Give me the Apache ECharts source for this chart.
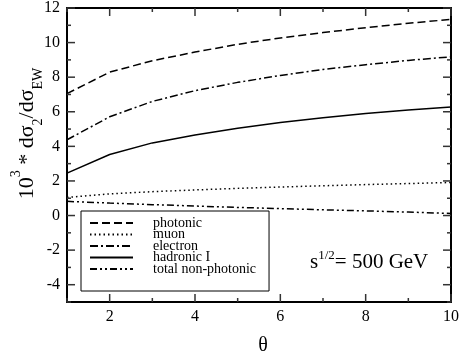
<!DOCTYPE html>
<html>
<head>
<meta charset="utf-8">
<script src="https://cdn.jsdelivr.net/npm/echarts@6/dist/echarts.min.js"></script>
<style>
html,body{margin:0;padding:0;background:#fff;}
#chart{width:462px;height:354px;}
</style>
</head>
<body>
<div id="chart"></div>
<script>
// ---- data ----
const thetaValues = [1, 2, 3, 4, 5, 6, 7, 8, 9, 10];
const photonic = [7.05, 8.29, 8.95, 9.45, 9.9, 10.27, 10.58, 10.86, 11.12, 11.34];
const muon = [1.05, 1.25, 1.38, 1.48, 1.57, 1.65, 1.72, 1.79, 1.85, 1.91];
const electron = [4.38, 5.71, 6.6, 7.22, 7.7, 8.1, 8.45, 8.72, 8.97, 9.18];
const hadronicI = [2.45, 3.53, 4.2, 4.65, 5.05, 5.38, 5.65, 5.9, 6.1, 6.28];
const totalNonPhotonic = [0.82, 0.72, 0.63, 0.55, 0.47, 0.4, 0.33, 0.27, 0.2, 0.12];
const seriesNames = ['photonic', 'muon', 'electron', 'hadronic I', 'total non-photonic'];
const xRange = [1, 10];
const yRange = [-5, 12];
const xTickValues = [1, 2, 3, 4, 5, 6, 7, 8, 9, 10];
const yTickValues = [-5, -4, -3, -2, -1, 0, 1, 2, 3, 4, 5, 6, 7, 8, 9, 10, 11, 12];

const FONT = '"Liberation Serif", "DejaVu Serif", serif';
const chart = echarts.init(document.getElementById('chart'), null, {renderer: 'canvas'});

function pairs(ys) { return thetaValues.map((x, i) => [x, ys[i]]); }

const TICK_STYLE = {stroke: '#333', lineWidth: 1.5};

function xAx(pos) {
  return {
    type: 'value', position: pos, min: xRange[0], max: xRange[1], interval: 1,
    axisLine: {show: true, onZero: false, lineStyle: {color: '#000', width: 2}},
    axisTick: {show: false},
    axisLabel: {
      show: pos === 'bottom', fontFamily: FONT, fontSize: 16, color: '#000', margin: 7,
      formatter: v => (v % 2 === 0 ? String(v) : '')
    },
    splitLine: {show: false}
  };
}
function yAx(pos) {
  return {
    type: 'value', position: pos, min: yRange[0], max: yRange[1], interval: 1,
    axisLine: {show: true, onZero: false, lineStyle: {color: '#000', width: 2}},
    axisTick: {show: false},
    axisLabel: {
      show: pos === 'left', fontFamily: FONT, fontSize: 16, color: '#000', margin: 7,
      formatter: v => (v % 2 === 0 ? String(v) : '')
    },
    splitLine: {show: false}
  };
}

const dashes = {
  'photonic': [8, 4],
  'muon': [1.5, 3],
  'electron': [8, 3, 2, 3],
  'hadronic I': 'solid',
  'total non-photonic': [7, 3, 2, 3, 2, 3]
};
const values = {
  'photonic': photonic,
  'muon': muon,
  'electron': electron,
  'hadronic I': hadronicI,
  'total non-photonic': totalNonPhotonic
};

const lineSeries = seriesNames.map(name => ({
  name: name, type: 'line', xAxisIndex: 0, yAxisIndex: 0,
  data: pairs(values[name]),
  showSymbol: false, symbol: 'none',
  lineStyle: {color: '#000', width: 1.5, type: dashes[name]},
  itemStyle: {color: '#000'}
}));

// inward ticks on all four sides, positioned through the axis scales
const xTickSeries = {
  name: '_xticks', type: 'custom', xAxisIndex: 0, yAxisIndex: 0, silent: true, clip: false, z: 5,
  data: xTickValues.map(v => [v, yRange[0]]),
  renderItem: function (params, api) {
    const v = api.value(0);
    const len = v % 2 === 0 ? 8 : 4;
    const b = api.coord([v, yRange[0]]);
    const t = api.coord([v, yRange[1]]);
    return {type: 'group', children: [
      {type: 'line', shape: {x1: b[0], y1: b[1], x2: b[0], y2: b[1] - len}, style: TICK_STYLE},
      {type: 'line', shape: {x1: t[0], y1: t[1], x2: t[0], y2: t[1] + len}, style: TICK_STYLE}
    ]};
  }
};
const yTickSeries = {
  name: '_yticks', type: 'custom', xAxisIndex: 0, yAxisIndex: 0, silent: true, clip: false, z: 5,
  data: yTickValues.map(v => [xRange[0], v]),
  renderItem: function (params, api) {
    const v = api.value(1);
    const len = v % 2 === 0 ? 8 : 4;
    const l = api.coord([xRange[0], v]);
    const r = api.coord([xRange[1], v]);
    return {type: 'group', children: [
      {type: 'line', shape: {x1: l[0], y1: l[1], x2: l[0] + len, y2: l[1]}, style: TICK_STYLE},
      {type: 'line', shape: {x1: r[0], y1: r[1], x2: r[0] - len, y2: r[1]}, style: TICK_STYLE}
    ]};
  }
};

const option = {
  animation: false,
  backgroundColor: '#fff',
  grid: {left: 67, right: 10, top: 6.5, bottom: 52},
  xAxis: [xAx('bottom'), xAx('top')],
  yAxis: [yAx('left'), yAx('right')],
  legend: {
    orient: 'vertical', left: 81, top: 211,
    data: seriesNames,
    borderColor: '#000', borderWidth: 1,
    padding: [5, 13, 15, 8],
    itemWidth: 43, itemHeight: 10, itemGap: -2.5,
    itemStyle: {color: 'rgba(0,0,0,0)', borderWidth: 0, opacity: 0},
    textStyle: {fontFamily: FONT, fontSize: 14, color: '#000', padding: [0, 0, 0, 15]}
  },
  series: lineSeries.concat([xTickSeries, yTickSeries]),
  graphic: [
    {
      type: 'text', x: 27.5, y: 133.5, rotation: Math.PI / 2,
      style: {
        text: '{n|10}{sup|3}{n| * dσ}{sub|2}{n|/dσ}{sub|EW}',
        align: 'center', verticalAlign: 'middle', fill: '#000',
        rich: {
          n: {fontFamily: FONT, fontSize: 22, lineHeight: 36, fill: '#000'},
          sup: {fontFamily: FONT, fontSize: 14, lineHeight: 14, verticalAlign: 'top', fill: '#000'},
          sub: {fontFamily: FONT, fontSize: 14, lineHeight: 24, verticalAlign: 'bottom', fill: '#000'}
        }
      }
    },
    {
      type: 'text', x: 263, y: 346,
      style: {text: 'θ', fontFamily: FONT, fontSize: 20, fill: '#000', align: 'center', verticalAlign: 'middle'}
    },
    {
      type: 'text', x: 310, y: 262,
      style: {
        text: '{a|s}{b|1/2}{a|= 500 GeV}',
        align: 'left', verticalAlign: 'middle', fill: '#000',
        rich: {
          a: {fontFamily: FONT, fontSize: 21, lineHeight: 26, fill: '#000'},
          b: {fontFamily: FONT, fontSize: 13, lineHeight: 13, verticalAlign: 'top', fill: '#000'}
        }
      }
    }
  ]
};
chart.setOption(option);
</script>
</body>
</html>
